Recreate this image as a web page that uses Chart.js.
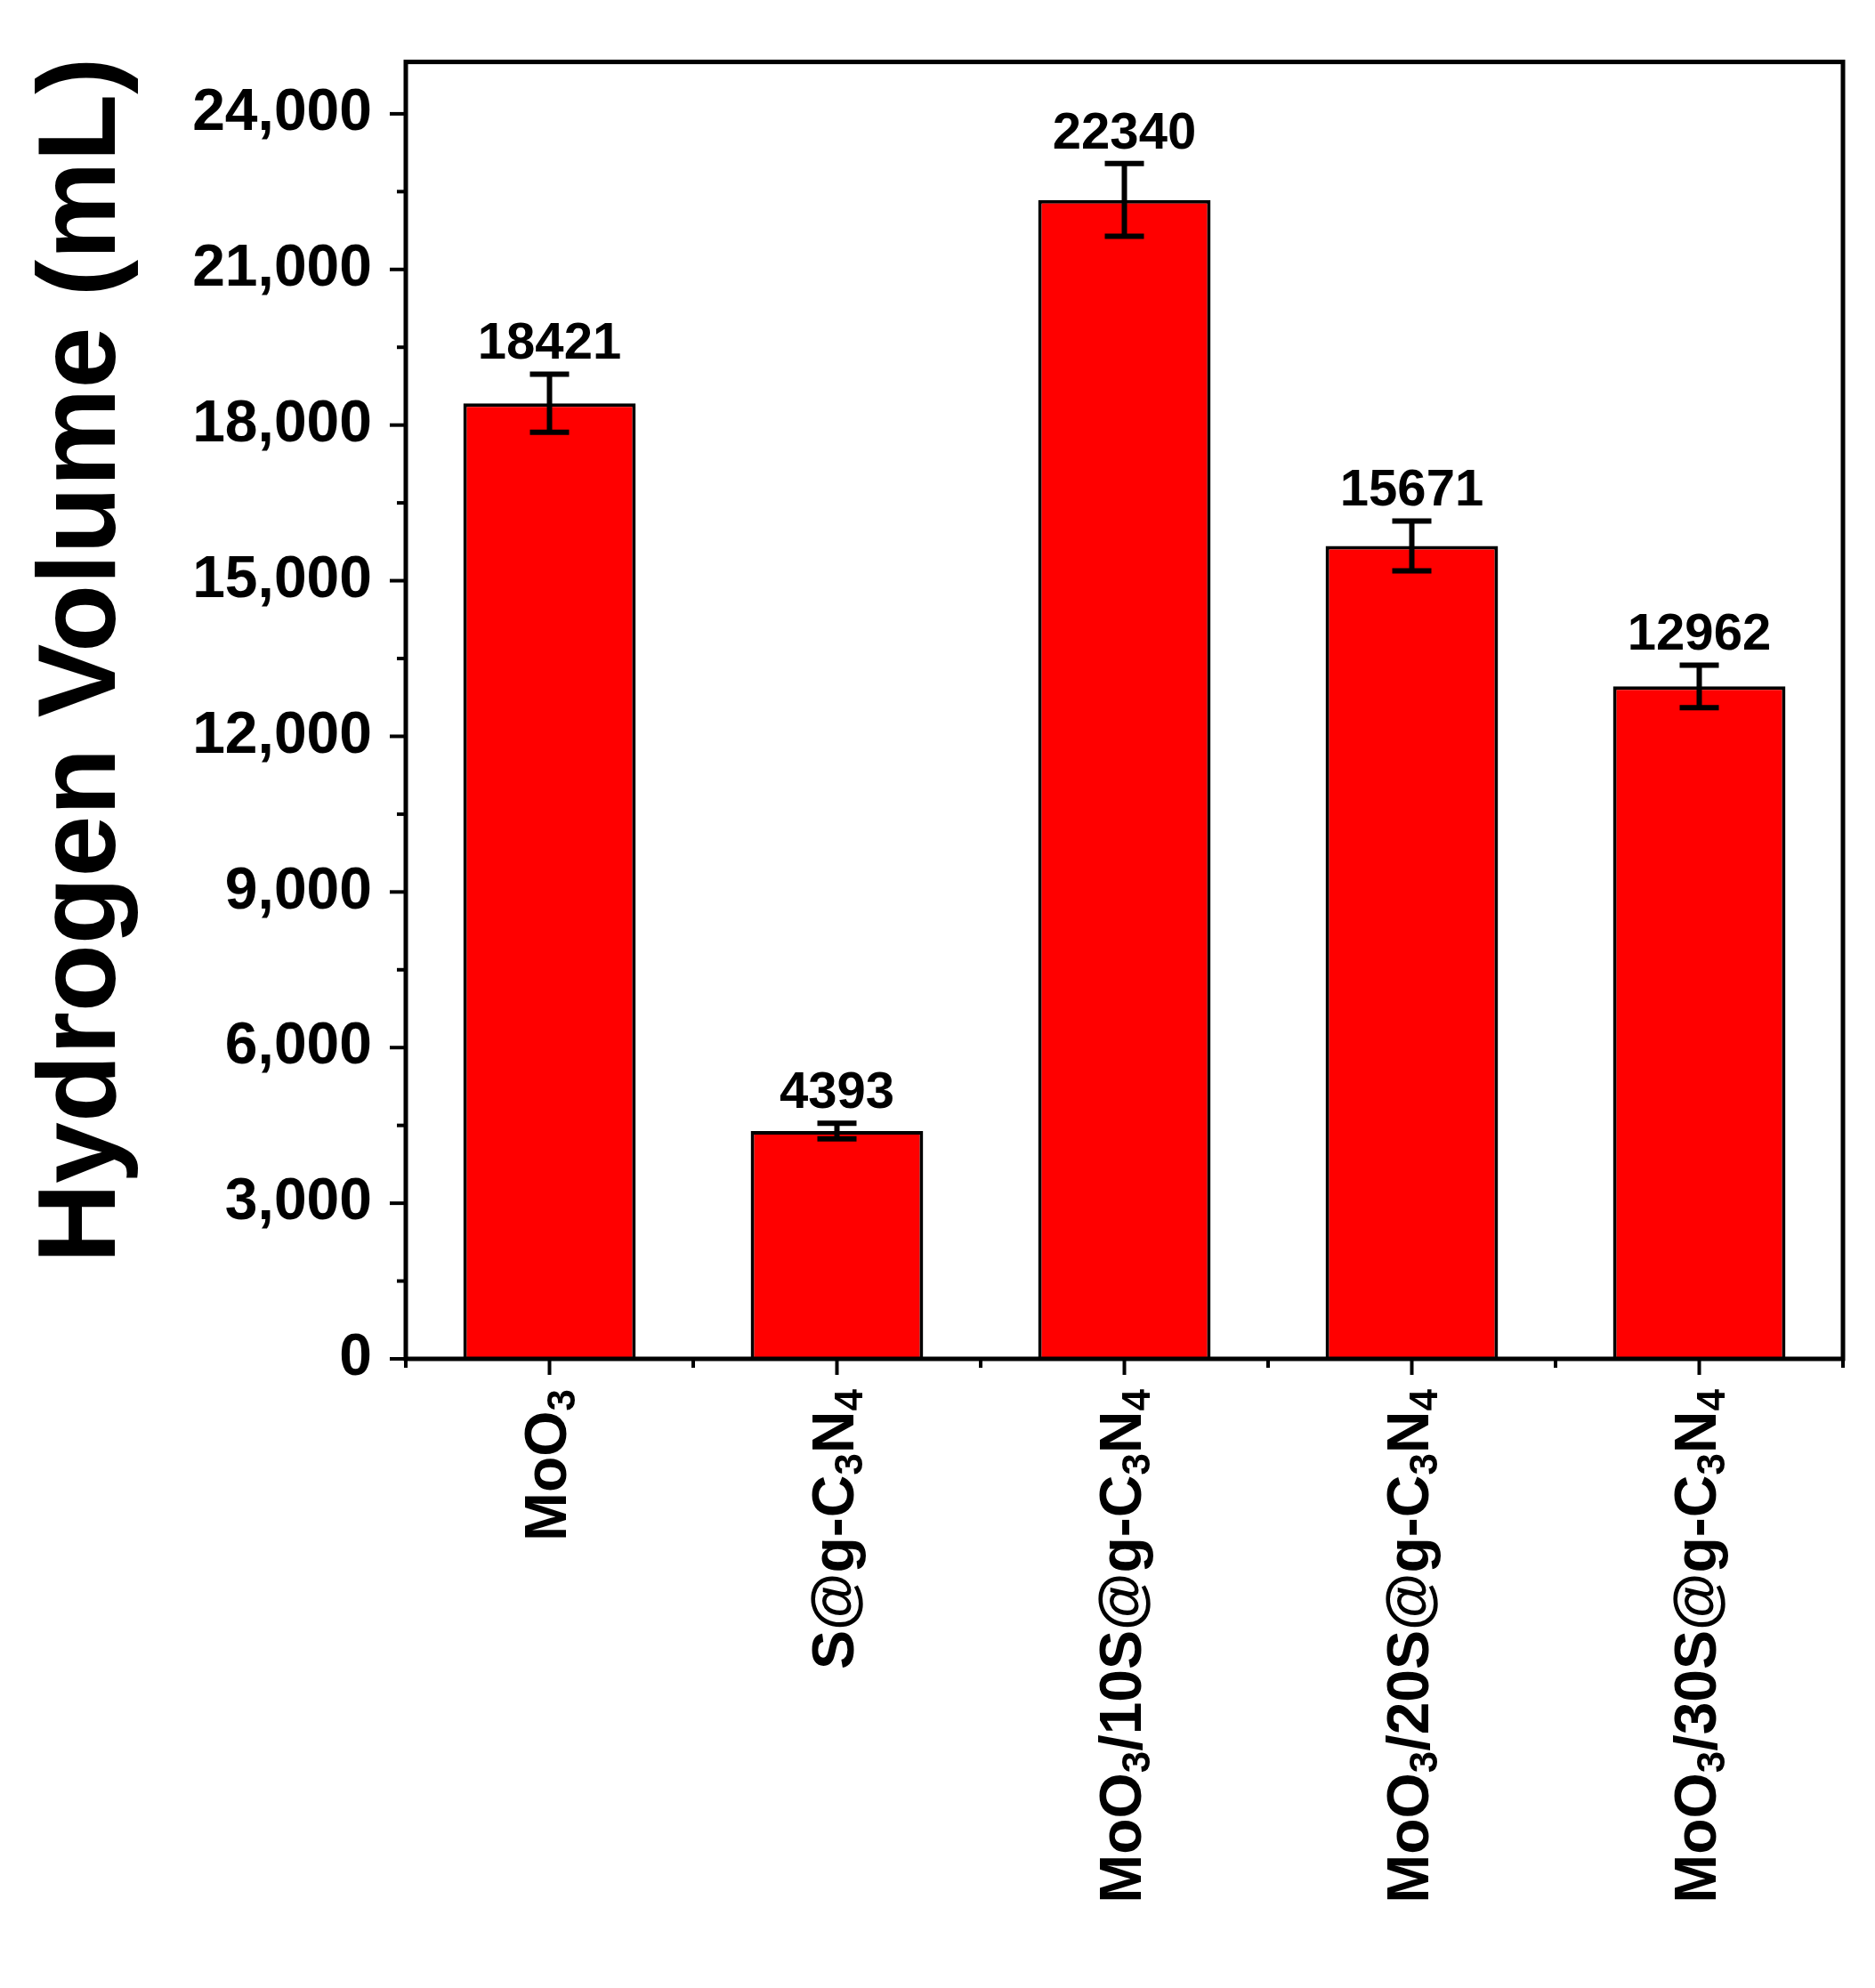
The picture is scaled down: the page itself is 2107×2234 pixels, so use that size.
<!DOCTYPE html>
<html>
<head>
<meta charset="utf-8">
<script src="https://cdn.jsdelivr.net/npm/chart.js@4"></script>
<style>
  html, body { margin: 0; padding: 0; background: #fff; }
  #wrap { width: 2107px; height: 2234px; }
</style>
</head>
<body>
<div id="wrap"><canvas id="myChart"></canvas></div>
<script>
const categories = ["MoO3", "S@g-C3N4", "MoO3/10S@g-C3N4", "MoO3/20S@g-C3N4", "MoO3/30S@g-C3N4"];
// label parts: [text, isSubscript]
const labelParts = [
  [["MoO", 0], ["3", 1]],
  [["S@g-C", 0], ["3", 1], ["N", 0], ["4", 1]],
  [["MoO", 0], ["3", 1], ["/10S@g-C", 0], ["3", 1], ["N", 0], ["4", 1]],
  [["MoO", 0], ["3", 1], ["/20S@g-C", 0], ["3", 1], ["N", 0], ["4", 1]],
  [["MoO", 0], ["3", 1], ["/30S@g-C", 0], ["3", 1], ["N", 0], ["4", 1]],
];
const hydrogenVolume = [18421, 4393, 22340, 15671, 12962];
const errors = [560, 150, 700, 480, 410];
const yTicks = [0, 3000, 6000, 9000, 12000, 15000, 18000, 21000, 24000];

const FONT = "'Liberation Sans', Arial, sans-serif";

const customDraw = {
  id: "customDraw",
  afterDatasetsDraw(chart) {
    const ctx = chart.ctx;
    const x = chart.scales.x, y = chart.scales.y;
    const a = chart.chartArea;
    ctx.save();
    ctx.strokeStyle = "#000";
    ctx.fillStyle = "#000";

    // error bars + value labels
    hydrogenVolume.forEach((v, i) => {
      const cx = x.getPixelForValue(i);
      const yt = y.getPixelForValue(v + errors[i]);
      const yb = y.getPixelForValue(v - errors[i]);
      ctx.lineWidth = 6;
      ctx.beginPath();
      ctx.moveTo(cx, yt); ctx.lineTo(cx, yb);
      ctx.moveTo(cx - 22, yt); ctx.lineTo(cx + 22, yt);
      ctx.moveTo(cx - 22, yb); ctx.lineTo(cx + 22, yb);
      ctx.stroke();
      ctx.font = "bold 58px " + FONT;
      ctx.textAlign = "center";
      ctx.textBaseline = "bottom";
      ctx.fillText(String(v), cx, yt - 4);
    });

    // frame
    ctx.lineWidth = 5;
    ctx.strokeRect(a.left, a.top, a.right - a.left, a.bottom - a.top);

    // y ticks (major + minor), outside
    ctx.lineWidth = 4;
    for (let v = 0; v <= 25000; v += 1500) {
      const py = y.getPixelForValue(v);
      const len = (v % 3000 === 0) ? 18 : 10;
      ctx.beginPath();
      ctx.moveTo(a.left, py); ctx.lineTo(a.left - len, py);
      ctx.stroke();
    }
    // x ticks: major at categories, minor at boundaries
    for (let i = -0.5; i <= categories.length - 0.5; i += 0.5) {
      const px = x.getPixelForValue(i);
      const len = Number.isInteger(i) ? 18 : 10;
      ctx.beginPath();
      ctx.moveTo(px, a.bottom); ctx.lineTo(px, a.bottom + len);
      ctx.stroke();
    }

    // rotated category labels with subscripts
    labelParts.forEach((parts, i) => {
      const cx = x.getPixelForValue(i);
      ctx.save();
      ctx.translate(cx, a.bottom + 34);
      ctx.rotate(-Math.PI / 2);
      ctx.textBaseline = "middle";
      ctx.textAlign = "left";
      let total = 0;
      parts.forEach(([t, s]) => {
        ctx.font = "bold " + (s ? 44 : 66) + "px " + FONT;
        total += ctx.measureText(t).width;
      });
      let pos = -total;
      parts.forEach(([t, s]) => {
        ctx.font = "bold " + (s ? 44 : 66) + "px " + FONT;
        ctx.fillText(t, pos, s ? 16 : 0);
        pos += ctx.measureText(t).width;
      });
      ctx.restore();
    });

    // y axis title
    ctx.save();
    ctx.translate(95, 742);
    ctx.rotate(-Math.PI / 2);
    ctx.font = "bold 124px " + FONT;
    ctx.textAlign = "center";
    ctx.textBaseline = "middle";
    ctx.fillText("Hydrogen Volume (mL)", 0, 0);
    ctx.restore();
    ctx.restore();
  }
};

const ctx = document.getElementById("myChart").getContext("2d");
const myChart = new Chart(ctx, {
  type: "bar",
  data: {
    labels: categories,
    datasets: [
      {
        data: hydrogenVolume,
        backgroundColor: "#ff0000",
        borderColor: "#000",
        borderWidth: 4,
        categoryPercentage: 1,
        barPercentage: 0.6,
      },
    ],
  },
  options: {
    responsive: true,
    maintainAspectRatio: false,
    animation: false,
    layout: { padding: { top: 36, right: 36, left: 0, bottom: 0 } },
    plugins: { legend: { display: false }, tooltip: { enabled: false } },
    scales: {
      x: {
        offset: true,
        grid: { display: false },
        border: { display: false },
        ticks: { display: false },
        afterFit(s) { s.height = 707; },
      },
      y: {
        min: 0,
        max: 25000,
        afterBuildTicks(s) { s.ticks = yTicks.map((v) => ({ value: v })); },
        grid: { display: false },
        border: { display: false },
        ticks: {
          color: "#000",
          padding: 30,
          font: { family: FONT, size: 66, weight: "bold" },
          callback: (v) => v.toLocaleString("en-US"),
        },
        afterFit(s) { s.width = 456; },
      },
    },
  },
  plugins: [customDraw],
});
</script>
</body>
</html>
